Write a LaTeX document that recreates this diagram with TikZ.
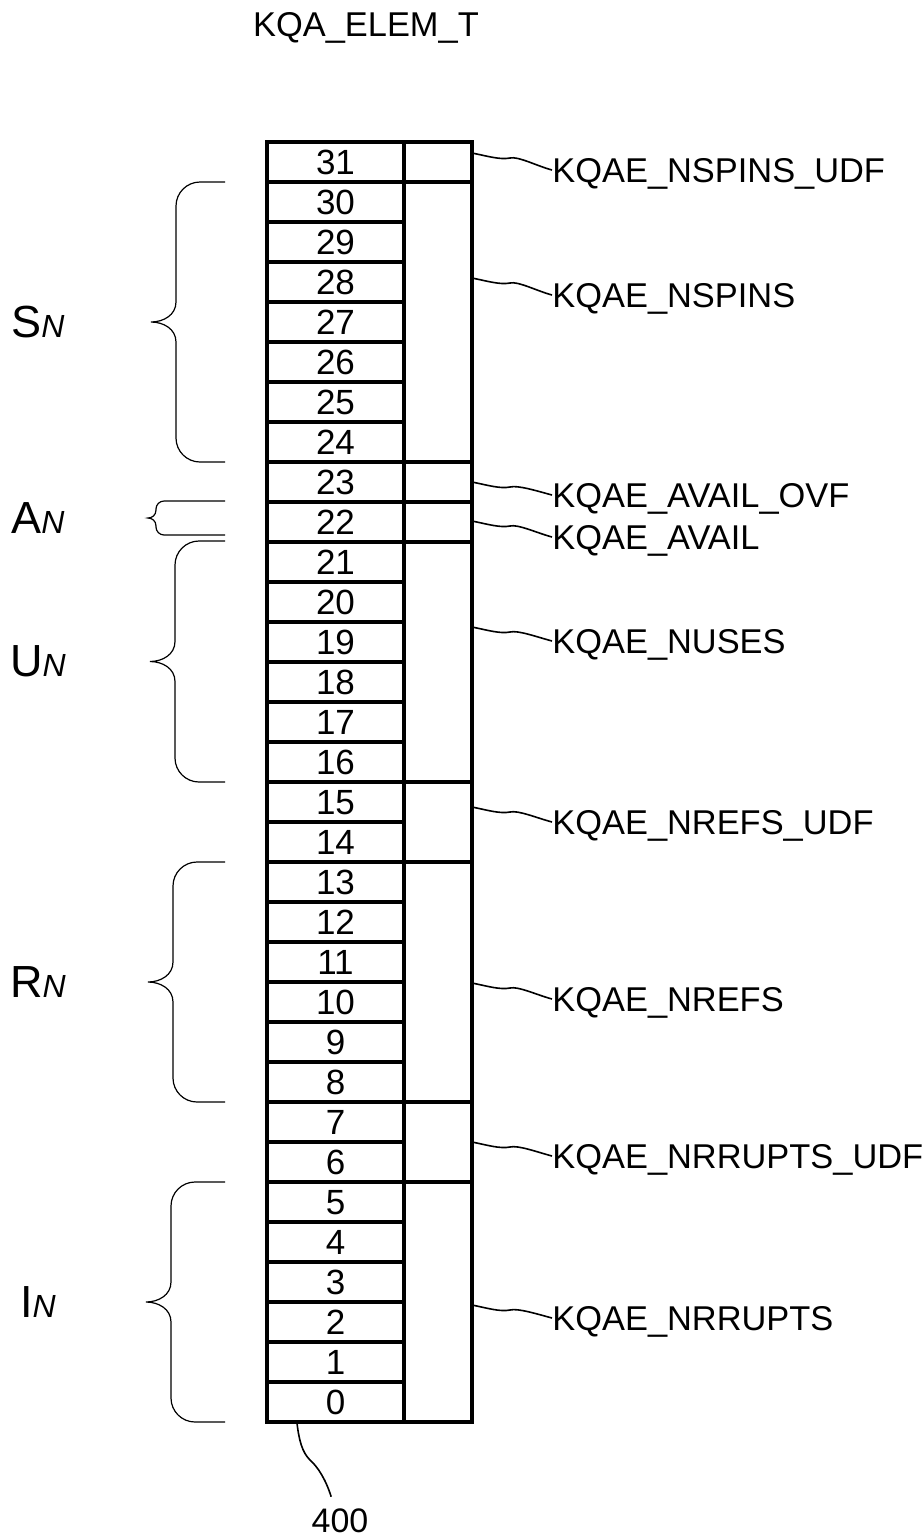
\documentclass[tikz,border=0pt]{standalone}
\usepackage{fontspec}
\setmainfont{Liberation Sans}
\begin{document}
\begin{tikzpicture}[x=0.5pt,y=-0.5pt,
    cell/.style={line width=1.6pt},
    bitnum/.style={font=\fontsize{17.5}{20}\selectfont,inner sep=0pt,text depth=0pt},
    fieldlbl/.style={font=\fontsize{17.2}{20}\selectfont,anchor=west,inner sep=0pt,text depth=0pt},
    grplbl/.style={font=\fontsize{22.5}{26}\selectfont,inner sep=0pt,text depth=0pt},
    lead/.style={line width=0.8pt},
    brc/.style={line width=0.6pt}]
    \useasboundingbox (0,0) rectangle (924,1538);

    \node[font=\fontsize{17.2}{20}\selectfont,inner sep=0pt,text depth=0pt] (title) at (366,24) {KQA\_ELEM\_T};

    \foreach \n in {0,...,31}{
    \draw[cell] (267,{142+(31-\n)*40}) rectangle (404,{182+(31-\n)*40});
    \node[bitnum] (n\n) at (335.5,{162+(31-\n)*40}) {\n};
    } % bit cells

    \foreach \hi/\lo in {31/31,30/24,23/23,22/22,21/16,15/14,13/8,7/6,5/0}{
    \draw[cell] (404,{142+(31-\hi)*40}) rectangle (472,{182+(31-\lo)*40});
    } % field cells

    \foreach \s/\l/\nm/\txt in {153/170/nspinsudf/KQAE\_NSPINS\_UDF,
        278/295/nspins/KQAE\_NSPINS,
        482/495/availovf/KQAE\_AVAIL\_OVF,
        521/537/avail/KQAE\_AVAIL,
        627/641/nuses/KQAE\_NUSES,
        807/822/nrefsudf/KQAE\_NREFS\_UDF,
        983/999/nrefs/KQAE\_NREFS,
        1142/1156/nrruptsudf/KQAE\_NRRUPTS\_UDF,
        1305/1318/nrrupts/KQAE\_NRRUPTS}{
    \coordinate (\nm) at (472,\s);
    \node[fieldlbl] (\nm lbl) at (552,\l) {\txt};
    \draw[lead] (\nm) .. controls +(15,3) and +(-10,2) .. ++(38,5)
        .. controls +(8,-2) and +(-15,-4) .. (\nm lbl.west);
    } % field names

    \foreach \t/\b/\vx/\tip/\r/\s/\nm/\ltr in {182/462/176/151/24/20/sgrp/S,
        501/535/156/148/8/8/agrp/A,
        541/782/175/150/24/20/ugrp/U,
        862/1102/173/148/24/20/rgrp/R,
        1182/1422/171/146/24/20/igrp/I}{
    \pgfmathsetmacro\m{(\t+\b)/2}
    \pgfmathsetmacro\h{(\vx+\tip)/2}
    \draw[brc] (225,\t) -- ({\vx+\r},\t) .. controls ({\vx+0.45*\r},\t) and (\vx,{\t+0.45*\r}) .. (\vx,{\t+\r})
        -- (\vx,{\m-\s}) .. controls (\vx,{\m-0.35*\s}) and (\h,\m) .. (\tip,\m)
        .. controls (\h,\m) and (\vx,{\m+0.35*\s}) .. (\vx,{\m+\s})
        -- (\vx,{\b-\r}) .. controls (\vx,{\b-0.45*\r}) and ({\vx+0.45*\r},\b) .. ({\vx+\r},\b) -- (225,\b);
    \node[grplbl] (\nm) at (38,\m) {\ltr{\itshape\fontsize{16}{20}\selectfont N}};
    } % brace groups

    \node[font=\fontsize{17}{20}\selectfont,inner sep=6pt,text depth=0pt] (ref) at (340,1521) {400};
    \coordinate (tbot) at (297,1423);
    \draw[lead] (tbot) .. controls (299,1440) and (302,1452) .. (310,1460)
        .. controls (318,1467) and (326,1480) .. (ref.110);
\end{tikzpicture}
\end{document}
